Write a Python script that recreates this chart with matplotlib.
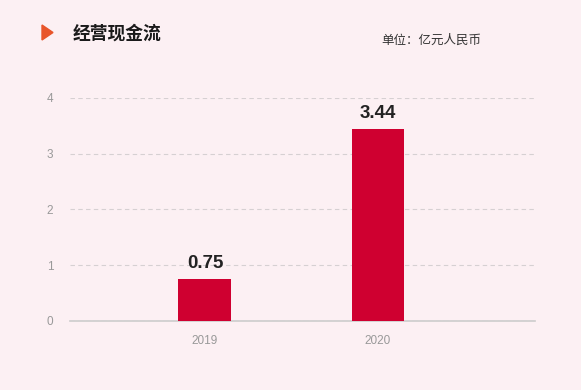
import matplotlib.pyplot as plt
from matplotlib.patches import Polygon

plt.rcParams['font.family'] = ['Noto Sans CJK SC', 'DejaVu Sans']

years = ['2019', '2020']
cash_flow = [0.75, 3.44]
yticks = [0, 1, 2, 3, 4]

bg = '#fcf0f3'
bar_color = '#cf0030'
W, H = 581, 390

fig = plt.figure(figsize=(5.81, 3.90), dpi=100, facecolor=bg)
ax = fig.add_axes([0.1205, 0.177, 0.8005, 0.572], facecolor=bg)

x = range(len(years))
ax.bar(x, cash_flow, width=0.306, color=bar_color, zorder=3)
for xi, v in zip(x, cash_flow):
    ax.annotate(f'{v:.2f}', (xi, v), xytext=(0, 5), textcoords='offset points',
                ha='center', va='bottom', fontsize=13.5, fontweight='bold', color='#222222',
                family='Liberation Sans')

ax.set_xlim(-0.78, 1.908)
ax.set_ylim(0, 4)
ax.set_xticks(list(x))
ax.set_xticklabels(years)
ax.set_yticks(yticks)
ax.tick_params(length=0, colors='#999999', labelsize=8.5)
ax.tick_params(axis='x', pad=10)
ax.tick_params(axis='y', pad=12)
for lab in ax.get_xticklabels() + ax.get_yticklabels():
    lab.set_family('Liberation Sans')

ax.grid(axis='y', linestyle=(0, (4, 3)), color='#d6d0d2', linewidth=0.8, zorder=0)
for s in ['top', 'right', 'left']:
    ax.spines[s].set_visible(False)
ax.spines['bottom'].set_color('#cccccc')
ax.spines['bottom'].set_linewidth(1.2)

# header
tri = Polygon([(42 / W, 1 - 25 / H), (42 / W, 1 - 40 / H), (53 / W, 1 - 32.5 / H)],
              closed=True, transform=fig.transFigure, color='#e8552a')
fig.patches.append(tri)
fig.text(0.125, 0.913, '经营现金流', fontsize=12.8, fontweight='heavy', color='#1a1a1a',
         ha='left', va='center')
fig.text(0.828, 0.897, '单位：亿元人民币', fontsize=9, color='#333333', ha='right', va='center')

fig.savefig('out.png', dpi=100, facecolor=bg)
